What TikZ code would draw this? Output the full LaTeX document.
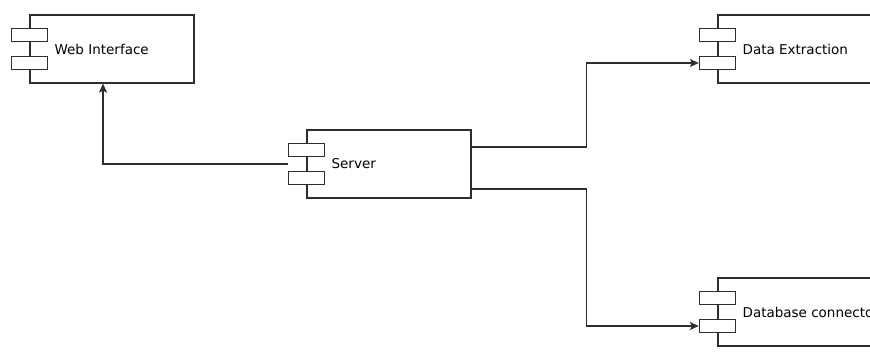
\documentclass[tikz,border=0pt]{standalone}
\usepackage{fontspec}
\setmainfont{DejaVu Sans}
\usetikzlibrary{positioning,arrows.meta}

\begin{document}
\begin{tikzpicture}[x=1pt, y=-1pt,
    comp/.style={draw=linec, fill=white, line width=1.2pt, inner sep=0pt,
                 minimum width=164pt, minimum height=68pt},
    tab/.style={draw=linec, fill=white, line width=1.2pt, inner sep=0pt,
                minimum width=36pt, minimum height=13pt},
    lbl/.style={font=\fontsize{13.5}{16}\selectfont, text=black, inner sep=0pt},
    wire/.style={draw=linec, line width=1.2pt,
                 -{Stealth[length=9pt, width=8pt, inset=2pt]}},
]

% Colors
\definecolor{linec}{HTML}{2E2E2E}

\clip (0,0) rectangle (870,360);

% === Components ===
\node[comp] (web) at (112,49) {};
\node[tab] (web-t1) at ([yshift=14pt]web.west) {};
\node[tab] (web-t2) at ([yshift=-14pt]web.west) {};
\node[lbl, right=25pt of web.west] (web-l) {Web Interface};

\node[comp] (srv) at (389,164) {};
\node[tab] (srv-t1) at ([yshift=14pt]srv.west) {};
\node[tab] (srv-t2) at ([yshift=-14pt]srv.west) {};
\node[lbl, right=25pt of srv.west] (srv-l) {Server};

\node[comp] (ext) at (800,49) {};
\node[tab] (ext-t1) at ([yshift=14pt]ext.west) {};
\node[tab] (ext-t2) at ([yshift=-14pt]ext.west) {};
\node[lbl, right=25pt of ext.west] (ext-l) {Data Extraction};

\node[comp] (dbc) at (800,312) {};
\node[tab] (dbc-t1) at ([yshift=14pt]dbc.west) {};
\node[tab] (dbc-t2) at ([yshift=-14pt]dbc.west) {};
\node[lbl, right=25pt of dbc.west] (dbc-l) {Database connector};

% === Connectors ===
\draw[wire] (srv-t1.west |- srv.west) -| ([xshift=-9pt]web.south);
\draw[wire] ([yshift=17pt]srv.east) -- ++(115,0) |- (ext-t2.west);
\draw[wire] ([yshift=-25pt]srv.east) -- ++(115,0) |- (dbc-t2.west);
\end{tikzpicture}
\end{document}
